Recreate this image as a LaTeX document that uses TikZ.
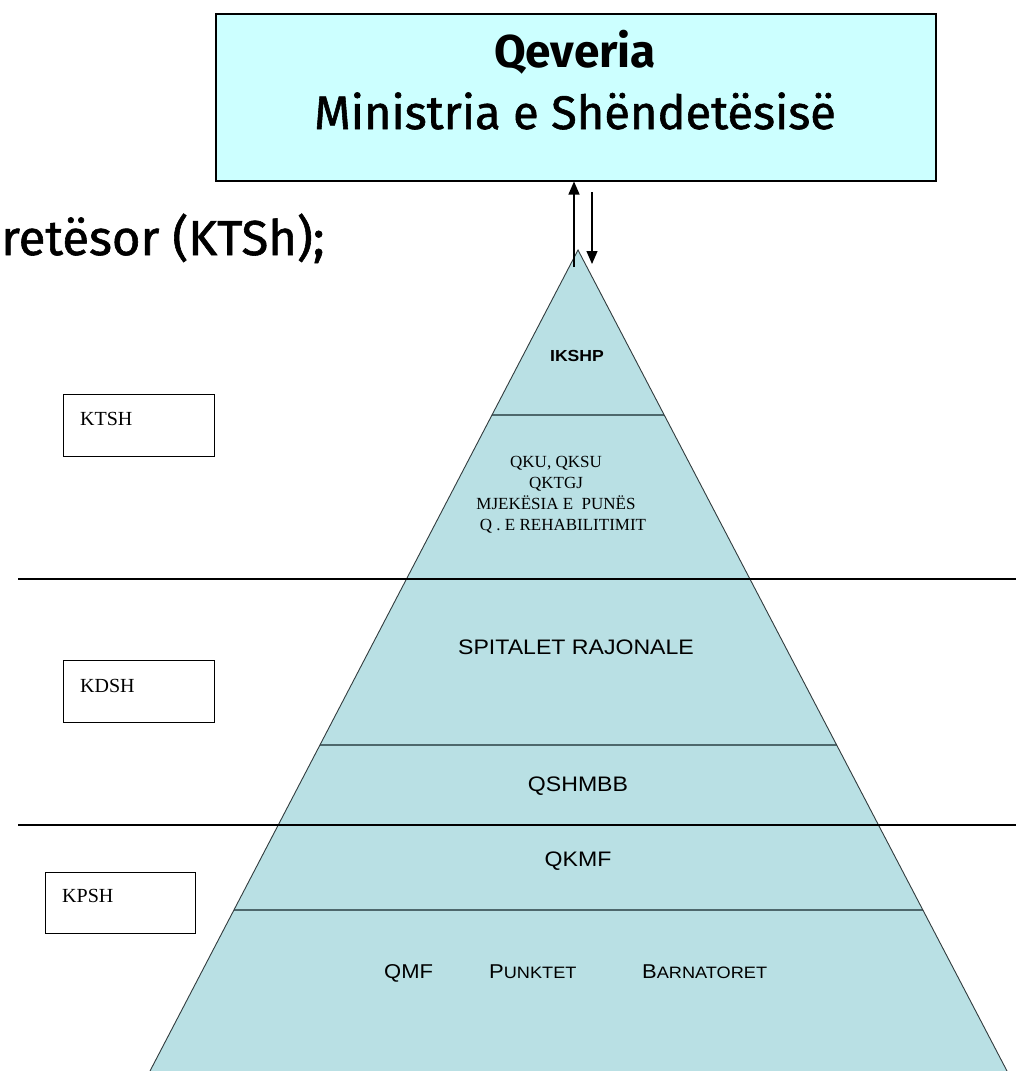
\documentclass[tikz,border=0pt]{standalone}
\usepackage{fontspec}
\setmainfont{Liberation Serif}
\newfontfamily\titlefont[FakeBold=1.2]{Fira Sans}
\newfontfamily\titleboldfont{Fira Sans}
\newfontfamily\pyrfont[FakeStretch=1.1]{Liberation Sans}
\usetikzlibrary{arrows.meta,calc}
\definecolor{boxcyan}{RGB}{204,255,255}
\definecolor{pyrfill}{RGB}{185,224,228}
\definecolor{bandgray}{RGB}{78,104,108}
\definecolor{edgegray}{RGB}{50,60,62}
\begin{document}
\begin{tikzpicture}[x=1pt,y=-1pt,
  lvlbox/.style={draw=black,line width=1.3pt,anchor=north west,inner sep=0pt},
  lvltext/.style={anchor=base west,inner sep=0pt,font=\fontsize{20}{24}\selectfont},
  titletext/.style={anchor=base,inner sep=0pt,font=\titlefont\fontsize{47}{55}\selectfont},
  serifline/.style={anchor=base,inner sep=0pt,font=\fontsize{17}{21}\selectfont},
  pyrtext/.style={anchor=base,inner sep=0pt,font=\pyrfont\fontsize{21}{25}\selectfont},
  bandline/.style={draw=bandgray,line width=2pt},
  sepline/.style={draw=black,line width=1.5pt},
  arr/.style={line width=1.3pt,-{Triangle[width=11pt,length=13pt]}}]
\useasboundingbox (0,0) rectangle (1016,1071);
\fill[white] (0,0) rectangle (1016,1071);

% government box
\node[draw=black,line width=1.5pt,fill=boxcyan,anchor=north west,
      minimum width=720pt,minimum height=167pt,inner sep=0pt] (gov) at (215,13) {};
\node[titletext,font=\titleboldfont\bfseries\fontsize{46}{54}\selectfont] (gov1) at (575,67) {Qeveria};
\node[titletext] (gov2) at (575,129) {Ministria e Shëndetësisë};

% heading fragment (left edge of the picture)
\node[titletext,anchor=base west,font=\titlefont\fontsize{49}{57}\selectfont] (frag) at (1,255) {retësor (KTSh);};

% pyramid
\coordinate (apex) at (578,250);
\coordinate (bl) at (150,1071);
\coordinate (br) at (1007,1071);
\fill[pyrfill] (apex) -- (bl) -- (br) -- cycle;
\foreach \t/\n in {0.20097/a,0.40073/b,0.60292/c,0.70037/d,0.80390/e}{
  \coordinate (L\n) at ($(apex)!\t!(bl)$);
  \coordinate (R\n) at ($(apex)!\t!(br)$);
  \draw[bandline] (L\n) -- (R\n);
}
\draw[draw=edgegray,line width=0.9pt] (bl) -- (apex) -- (br);

% level separators
\coordinate (s1l) at (18,579);  \coordinate (s1r) at (1016,579);
\coordinate (s2l) at (18,825);  \coordinate (s2r) at (1016,825);
\draw[sepline] (s1l) -- (s1r);
\draw[sepline] (s2l) -- (s2r);

% arrows
\coordinate (upfoot) at (574,267);
\draw[arr] (upfoot) -- (upfoot |- gov.south);
\coordinate (downtop) at (592,192);
\coordinate (downtip) at (592,264);
\draw[arr] (downtop) -- (downtip);

% pyramid labels
\node[pyrtext,font=\pyrfont\bfseries\fontsize{16}{19}\selectfont] (ikshp) at (577,361) {IKSHP};
\node[serifline] (q1) at (556,467) {QKU, QKSU};
\node[serifline] (q2) at (556,488) {QKTGJ};
\node[serifline] (q3) at (556,509) {MJEKËSIA E\ \ PUNËS};
\node[serifline] (q4) at (563,530) {Q . E REHABILITIMIT};
\node[pyrtext] (spit) at (576,654) {SPITALET RAJONALE};
\node[pyrtext] (qshm) at (578,791) {QSHMBB};
\node[pyrtext] (qkmf) at (578,866) {QKMF};
\node[pyrtext,anchor=base west,font=\pyrfont\fontsize{20}{24}\selectfont] (qmf) at (384,978) {QMF};
\node[pyrtext,anchor=base west,font=\pyrfont\fontsize{20}{24}\selectfont] (punk) at (489,978) {P{\fontsize{16.5}{20}\selectfont UNKTET}};
\node[pyrtext,anchor=base west,font=\pyrfont\fontsize{20}{24}\selectfont] (barn) at (642,978) {B{\fontsize{16.5}{20}\selectfont ARNATORET}};

% level boxes
\node[lvlbox,minimum width=151pt,minimum height=62pt] (ktsh) at (63,394) {};
\node[lvltext] (ktshl) at ($(ktsh.north west)+(17,31)$) {KTSH};
\node[lvlbox,minimum width=151pt,minimum height=62pt] (kdsh) at (63,660) {};
\node[lvltext] (kdshl) at ($(kdsh.north west)+(17,32)$) {KDSH};
\node[lvlbox,minimum width=150pt,minimum height=61pt] (kpsh) at (45,872) {};
\node[lvltext] (kpshl) at ($(kpsh.north west)+(17,30)$) {KPSH};
\end{tikzpicture}
\end{document}
